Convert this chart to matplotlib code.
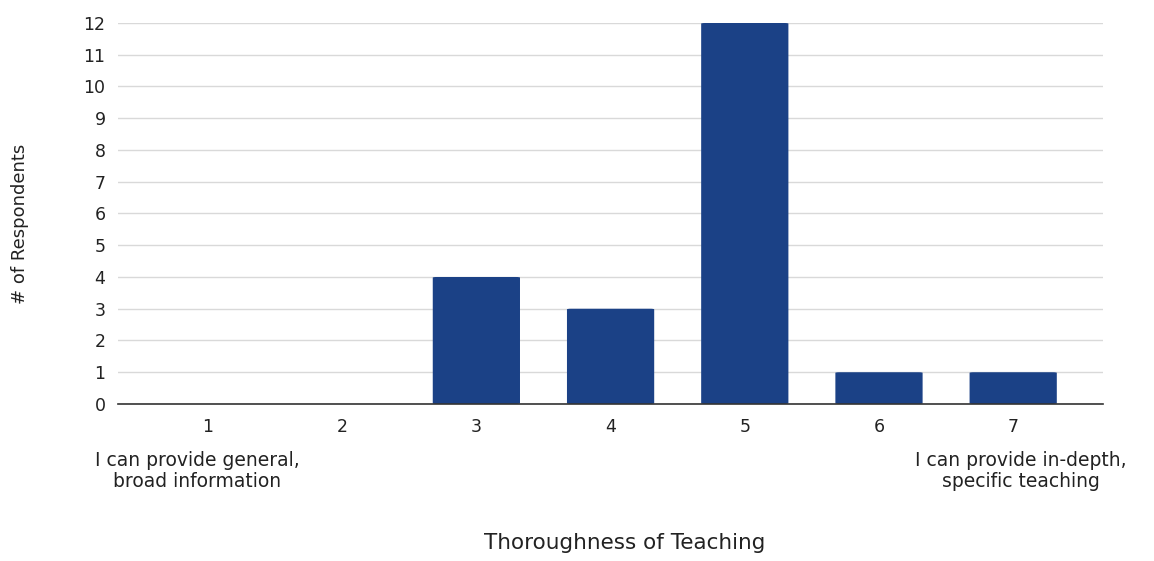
import matplotlib
matplotlib.use("Agg")
import matplotlib.pyplot as plt
from matplotlib.patches import FancyBboxPatch

# Survey responses per rating
ratings = [1, 2, 3, 4, 5, 6, 7]
respondents = [0, 0, 4, 3, 12, 1, 1]
y_ticks = list(range(0, 13))
low_label = "I can provide general,\nbroad information"
high_label = "I can provide in-depth,\nspecific teaching"

plt.rcParams['font.family'] = ['DejaVu Sans']
text_color = '#222222'

fig = plt.figure(figsize=(11.54, 5.61), dpi=100)
ax = fig.add_axes([0.1023, 0.2799, 0.8536, 0.6791])

bar_color = "#1b4186"
width = 0.65
for r, v in zip(ratings, respondents):
    if v <= 0:
        continue
    patch = FancyBboxPatch((r - width / 2, 0), width, v,
                           boxstyle="round,pad=0,rounding_size=0.03",
                           mutation_aspect=0.6,
                           facecolor=bar_color, edgecolor="none", zorder=3)
    ax.add_patch(patch)

ax.set_xlim(0.33, 7.67)
ax.set_ylim(0, 12)
ax.set_yticks(y_ticks)
ax.set_xticks(ratings)
ax.set_xticklabels([str(r) for r in ratings])
ax.grid(axis='y', color='#d9d9d9', linewidth=1, zorder=0)
for s in ['top', 'right', 'left']:
    ax.spines[s].set_visible(False)
ax.spines['bottom'].set_color('#333333')
ax.spines['bottom'].set_linewidth(1.2)
ax.spines['bottom'].set_zorder(4)
ax.tick_params(axis='both', length=0, labelsize=12.5, colors=text_color)
ax.tick_params(axis='y', pad=9)
ax.tick_params(axis='x', pad=10)

fig.text(20 / 1154, 1 - 224 / 561, "# of Respondents", rotation=90,
         ha='center', va='center', fontsize=13, color=text_color)
fig.text(625 / 1154, 1 - 543 / 561, "Thoroughness of Teaching",
         ha='center', va='center', fontsize=15.5, color=text_color)

# End-point descriptions below the scale
ax.annotate(low_label, xy=(1, 0), xycoords=('data', 'axes fraction'),
            xytext=(-11, -67), textcoords='offset pixels', ha='center',
            va='center', fontsize=13.5, color=text_color, linespacing=1.15)
ax.annotate(high_label, xy=(7, 0), xycoords=('data', 'axes fraction'),
            xytext=(8, -67), textcoords='offset pixels', ha='center',
            va='center', fontsize=13.5, color=text_color, linespacing=1.15)

fig.savefig("out.png", dpi=100, facecolor='white')
